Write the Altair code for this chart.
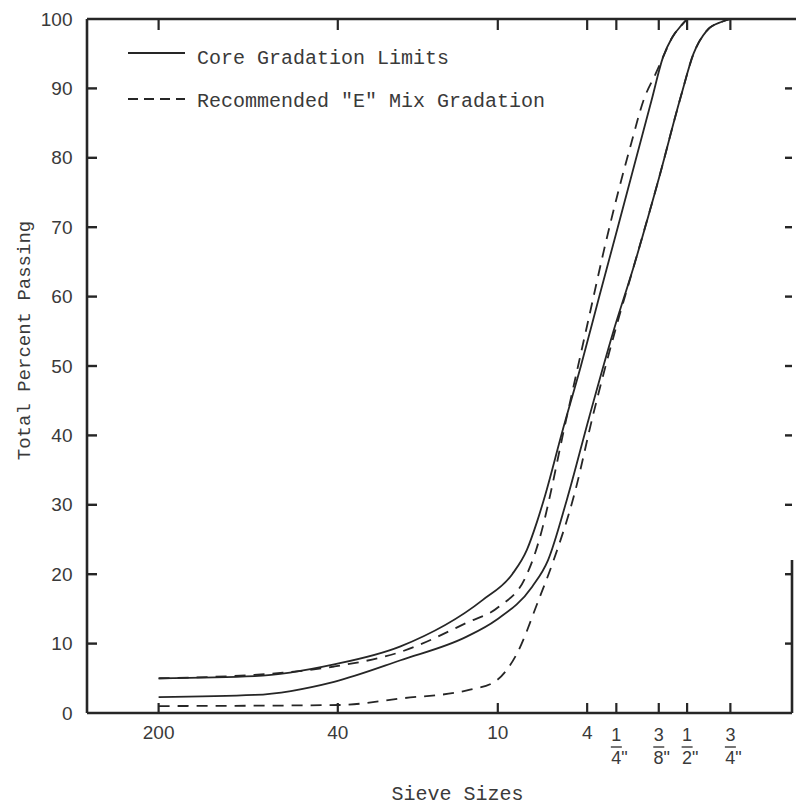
import altair as alt
import pandas as pd

# ---------------- data ----------------
sieve_mm = [0.075, 0.425, 2.0, 4.75, 6.3, 9.5, 12.5, 19.0]
sieve_top = ["200", "40", "10", "4", "1", "3", "1", "3"]
sieve_den = ["", "", "", "", '4"', '8"', '2"', '4"']
percent_ticks = [0, 10, 20, 30, 40, 50, 60, 70, 80, 90, 100]

upper_solid_mm = [0.075, 0.19, 0.41, 0.78, 1.73, 2.3, 2.65, 2.92, 3.17, 3.73, 4.47,
                  5.34, 6.39, 7.64, 8.86, 9.9, 10.8, 11.9, 12.5]
upper_solid_pct = [5.0, 5.3, 7.0, 9.6, 16.3, 20.0, 23.5, 27.5, 31.5, 40.5, 50,
                   60, 70, 80, 88.3, 94.5, 97.3, 99.2, 100]

lower_solid_mm = [0.075, 0.19, 0.41, 0.78, 1.48, 1.97, 2.79, 3.25, 3.9, 4.85, 6.1,
                  7.45, 9.4, 11.8, 13.3, 15.1, 17.5, 19.0]
lower_solid_pct = [2.3, 2.6, 4.5, 7.6, 11.0, 13.4, 18.2, 22.0, 30.7, 42.7, 54.8,
                   64.3, 76.4, 89.0, 95.0, 98.3, 99.6, 100]

upper_dash_mm = [0.075, 0.25, 0.41, 0.78, 1.48, 2.02, 2.61, 2.88, 3.1, 3.3, 3.75, 4.35,
                 4.84, 5.59, 6.45, 7.28, 8.2, 9.24, 9.9, 10.8, 11.9, 12.5]
upper_dash_pct = [5.0, 5.8, 6.7, 8.8, 13.0, 15.3, 19.5, 23.2, 27.0, 31.0, 40, 50,
                  57.1, 66.7, 75.4, 82.1, 88.3, 92.2, 94.5, 97.3, 99.2, 100]

lower_dash_mm = [0.075, 0.43, 0.785, 1.5, 1.94, 2.41, 2.97, 3.4, 4.21, 5.01, 6.3,
                 7.45, 9.4, 11.8, 13.3, 15.1, 17.5, 19.0]
lower_dash_pct = [1.0, 1.15, 2.1, 3.3, 4.5, 8.6, 16.3, 21.6, 31.7, 42.7, 55.7,
                  64.3, 76.4, 89.0, 95.0, 98.3, 99.6, 100]

legend_labels = ["Core Gradation Limits", 'Recommended "E" Mix Gradation']

# ---------------- styling ----------------
W, H = 705, 694
INK = "#262626"
TXT = "#3a3a3a"
DASH = [11, 8]

rows = []
def add(name, style, mm, pct):
    for i, (m, p) in enumerate(zip(mm, pct)):
        rows.append({"series": name, "style": style, "mm": m, "pct": p, "order": i})

add("upper_solid", "solid", upper_solid_mm, upper_solid_pct)
add("lower_solid", "solid", lower_solid_mm, lower_solid_pct)
add("upper_dash", "dashed", upper_dash_mm, upper_dash_pct)
add("lower_dash", "dashed", lower_dash_mm, lower_dash_pct)
curves = pd.DataFrame(rows)

sieves = pd.DataFrame({"mm": sieve_mm, "top": sieve_top, "den": sieve_den})
inner_pcts = pd.DataFrame({"pct": percent_ticks[1:-1]})
one = pd.DataFrame({"k": [0]})
legend_df = pd.DataFrame({"label": legend_labels, "row": [0, 1]})

xs = alt.Scale(type="log", domain=[0.0375, 34.5], nice=False)
ys = alt.Scale(domain=[0, 100], nice=False)

x_axis = alt.Axis(labels=False, ticks=False, domain=False, grid=False,
                  title="Sieve Sizes", titleFont="Liberation Mono", titleFontSize=20,
                  titleFontWeight="normal", titleColor=TXT, titleX=370, titleY=80,
                  titleAlign="center", titleBaseline="middle")
y_axis = alt.Axis(values=percent_ticks, ticks=False, tickSize=0, domain=False, grid=False,
                  labelFont="Liberation Sans", labelFontSize=19, labelColor=TXT,
                  labelPadding=15,
                  title="Total Percent Passing", titleFont="Liberation Mono",
                  titleFontSize=19, titleFontWeight="normal", titleColor=TXT,
                  titleX=-64, titleY=321, titleAngle=270, titleAlign="center",
                  titleBaseline="middle")

X = alt.X("mm:Q", scale=xs, axis=x_axis)
Y = alt.Y("pct:Q", scale=ys, axis=y_axis)

solid = alt.Chart(curves).transform_filter(alt.datum.style == "solid").mark_line(
    color=INK, strokeWidth=1.8, interpolate="monotone").encode(
    x=X, y=Y, detail="series:N", order="order:Q")

dashed = alt.Chart(curves).transform_filter(alt.datum.style == "dashed").mark_line(
    color=INK, strokeWidth=1.8, strokeDash=DASH, interpolate="monotone").encode(
    x=X, y=Y, detail="series:N", order="order:Q")

def frame_rule(**enc):
    return alt.Chart(one).mark_rule(color=INK, strokeWidth=2.6).encode(**enc)

frame = [
    frame_rule(x=alt.value(0), y=alt.value(0), y2=alt.value(H)),
    frame_rule(x=alt.value(0), x2=alt.value(W), y=alt.value(H)),
    frame_rule(x=alt.value(0), x2=alt.value(W + 4), y=alt.value(0)),
    frame_rule(x=alt.value(W), y=alt.value(round(H * 0.78)), y2=alt.value(H)),
]

tick_bottom = alt.Chart(sieves).mark_rule(color=INK, strokeWidth=2.2).encode(
    x=X, y=alt.value(H), y2=alt.value(H - 10))
tick_top = alt.Chart(sieves).mark_rule(color=INK, strokeWidth=2.2).encode(
    x=X, y=alt.value(0), y2=alt.value(11))
tick_left = alt.Chart(inner_pcts).mark_rule(color=INK, strokeWidth=2.4).encode(
    y=Y, x=alt.value(0), x2=alt.value(10))
tick_right = alt.Chart(inner_pcts).mark_rule(color=INK, strokeWidth=2.4).encode(
    y=Y, x=alt.value(W - 7), x2=alt.value(W))

lab_int = alt.Chart(sieves).transform_filter(alt.datum.den == "").mark_text(
    font="Liberation Sans", fontSize=19, color=TXT, baseline="middle", align="center").encode(
    x=X, y=alt.value(H + 20), text="top:N")
lab_num = alt.Chart(sieves).transform_filter(alt.datum.den != "").mark_text(
    font="Liberation Sans", fontSize=18, color=TXT, baseline="middle", align="center").encode(
    x=X, y=alt.value(H + 23), text="top:N")
lab_bar = alt.Chart(sieves).transform_filter(alt.datum.den != "").mark_rule(
    color=TXT, strokeWidth=1.4, xOffset=-5.5, x2Offset=5.5).encode(
    x=X, x2=alt.X2("mm:Q"), y=alt.value(H + 34))
lab_den = alt.Chart(sieves).transform_filter(alt.datum.den != "").mark_text(
    font="Liberation Sans", fontSize=18, color=TXT, baseline="middle", align="center", dx=3).encode(
    x=X, y=alt.value(H + 46), text="den:N")

leg_solid = alt.Chart(one).mark_rule(color=INK, strokeWidth=1.8).encode(
    x=alt.value(41), x2=alt.value(98), y=alt.value(34))
leg_dash = alt.Chart(one).mark_rule(color=INK, strokeWidth=1.8, strokeDash=[10, 6]).encode(
    x=alt.value(41), x2=alt.value(98), y=alt.value(80))
leg_text0 = alt.Chart(legend_df).transform_filter(alt.datum.row == 0).mark_text(
    font="Liberation Mono", fontSize=20, color=TXT, align="left", baseline="middle").encode(
    x=alt.value(110), y=alt.value(39), text="label:N")
leg_text1 = alt.Chart(legend_df).transform_filter(alt.datum.row == 1).mark_text(
    font="Liberation Mono", fontSize=20, color=TXT, align="left", baseline="middle").encode(
    x=alt.value(110), y=alt.value(82), text="label:N")

chart = alt.layer(
    solid, dashed, *frame, tick_bottom, tick_top, tick_left, tick_right,
    lab_int, lab_num, lab_bar, lab_den,
    leg_solid, leg_dash, leg_text0, leg_text1,
).properties(
    width=W, height=H,
    autosize=alt.AutoSizeParams(type="none"),
    padding={"left": 87, "top": 19, "right": 4, "bottom": 95},
    background="white",
).configure_view(stroke=None)

chart.save("out.html", embed_options={"renderer": "svg", "actions": False})
